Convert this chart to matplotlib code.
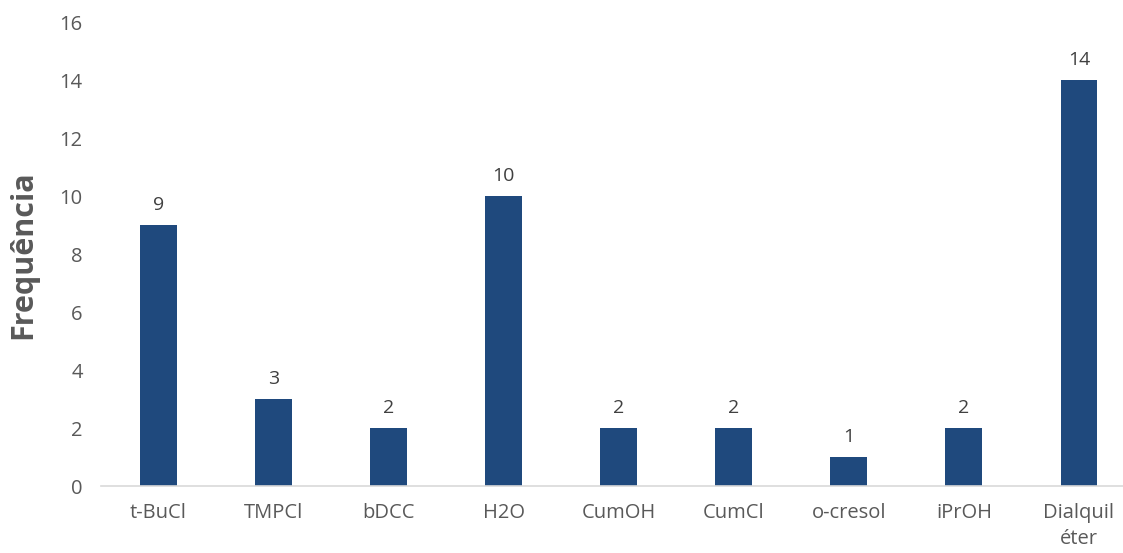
import matplotlib

matplotlib.use("Agg")
import matplotlib.pyplot as plt

categories = ["t-BuCl", "TMPCl", "bDCC", "H2O", "CumOH", "CumCl", "o-cresol", "iPrOH", "Dialquil\néter"]
frequencies = [9, 3, 2, 10, 2, 2, 1, 2, 14]

BAR_COLOR = "#1F497D"
TEXT_COLOR = "#595959"

plt.rcParams["font.family"] = ["Open Sans", "DejaVu Sans"]

fig = plt.figure(figsize=(11.23, 5.53), dpi=100)
ax = fig.add_axes([100.8 / 1123, 1 - 486 / 553, (1123 - 100.8) / 1123, (486 - 22) / 553])

x = range(len(categories))
bars = ax.bar(x, frequencies, width=0.32, color=BAR_COLOR)
for rect, val in zip(bars, frequencies):
    ax.annotate(str(val), (rect.get_x() + rect.get_width() / 2, val),
                xytext=(0, 8), textcoords="offset points",
                ha="center", va="bottom", fontsize=14, color="#404040")

ax.set_xlim(-0.5, 8.5 - 13.5 / 115.1)
ax.set_ylim(0, 16)
ax.set_yticks(range(0, 17, 2))
ax.set_xticks(list(x))
ax.set_xticklabels(categories, linespacing=1.4)
ax.tick_params(axis="both", length=0, labelsize=14.5, labelcolor=TEXT_COLOR)
ax.tick_params(axis="x", pad=12)
ax.tick_params(axis="y", pad=13)

for side in ("top", "right", "left"):
    ax.spines[side].set_visible(False)
ax.spines["bottom"].set_color("#D9D9D9")
ax.spines["bottom"].set_linewidth(1.2)

fig.text(23 / 1123, 1 - 255 / 553, "Frequência", rotation=90, ha="center", va="center",
         fontsize=22, fontweight="bold", color=TEXT_COLOR)

fig.savefig("out.png", dpi=100)
